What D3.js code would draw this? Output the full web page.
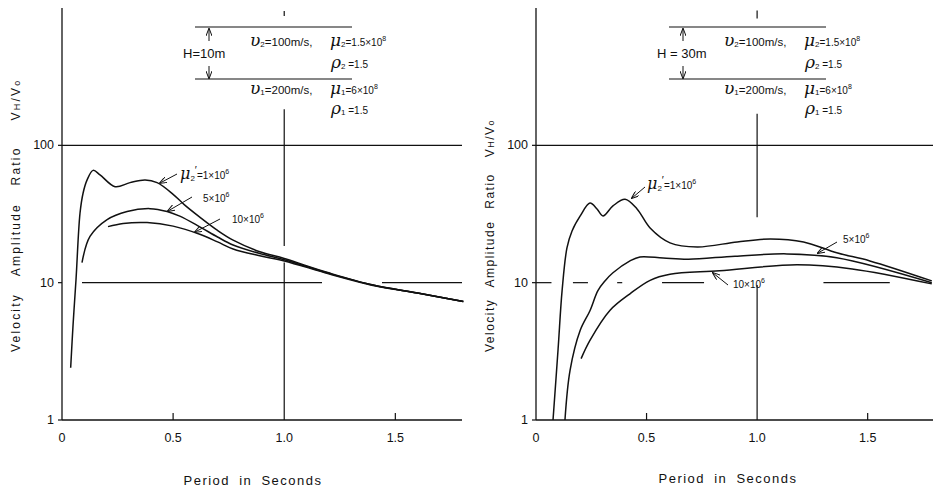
<!DOCTYPE html>
<html>
<head>
<meta charset="utf-8">
<script src="https://cdn.jsdelivr.net/npm/d3@7/dist/d3.min.js"></script>
<style>
  body { margin: 0; background: #fff; }
  svg { display: block; font-family: "Liberation Sans", Arial, sans-serif; }
</style>
</head>
<body>
<svg id="chart" width="933" height="493"></svg>
<script>
// axis ticks
const periodTicks = [0, 0.5, 1.0, 1.5];
const periodSmallTicks = [0.5, 1.5];
const ratioTicks = [1, 10, 100];

// H = 10m curves  [period, ratio]
const h10Mu1 = [[0.039, 2.4], [0.05, 5], [0.063, 10.5], [0.081, 32], [0.095, 45], [0.113, 56],
  [0.14, 65.7], [0.171, 61], [0.239, 50], [0.306, 53.5], [0.374, 56], [0.428, 53.5],
  [0.5, 44], [0.55, 37], [0.62, 30], [0.7, 24], [0.77, 20.4], [0.89, 16.8], [1.0, 15.0],
  [1.2, 11.8], [1.4, 9.6], [1.6, 8.4], [1.806, 7.3]];
const h10Mu5 = [[0.09, 14], [0.126, 21.7], [0.203, 28.8], [0.293, 33], [0.396, 34.6],
  [0.473, 33], [0.53, 30.5], [0.62, 25.5], [0.7, 21.5], [0.77, 18.8], [0.89, 16.3],
  [1.0, 14.7], [1.2, 11.7], [1.4, 9.6], [1.6, 8.4], [1.806, 7.3]];
const h10Mu10 = [[0.207, 25.6], [0.275, 27], [0.383, 27.4], [0.5, 25.8], [0.62, 22.5],
  [0.7, 19.8], [0.77, 17.6], [0.89, 15.7], [1.0, 14.4], [1.2, 11.6], [1.4, 9.55],
  [1.6, 8.4], [1.806, 7.3]];

// H = 30m curves
const h30Mu1 = [[0.077, 1], [0.1, 3.3], [0.118, 8.75], [0.14, 17.9], [0.163, 23.8], [0.2, 30.6],
  [0.244, 38], [0.276, 34.4], [0.303, 30.6], [0.348, 36.2], [0.403, 40.5], [0.457, 34.4],
  [0.516, 25], [0.606, 19.5], [0.73, 18.2], [0.91, 19.8], [1.06, 20.8], [1.21, 19.8],
  [1.36, 16.5], [1.51, 14.4], [1.79, 10.3]];
const h30Mu5 = [[0.131, 1], [0.154, 2.3], [0.2, 4.5], [0.244, 6.25], [0.28, 8.75], [0.312, 10.3],
  [0.348, 11.8], [0.425, 14.4], [0.47, 15.4], [0.575, 15.1], [0.69, 14.8], [0.9, 15.6],
  [1.135, 16.2], [1.36, 15.2], [1.79, 10]];
const h30Mu10 = [[0.204, 2.8], [0.244, 3.8], [0.335, 6.3], [0.425, 8.3], [0.516, 10.4],
  [0.606, 11.5], [0.83, 12.2], [1.18, 13.5], [1.43, 12.6], [1.79, 9.8]];

// broken reference lines [from, to]
const h10Grid10 = [[0.09, 1.17], [1.44, 1.8]];
const h30Grid10 = [[0, 0.07], [0.167, 0.235], [0.367, 0.39], [0.57, 0.76], [1.30, 1.60]];
const gridFull = [[0, 1.8]];
const h10Line1s = [[875, 950], [18.5, 183], [1, 14]];
const h30Line1s = [[840, 960], [30, 170], [1, 9.6]];

const svg = d3.select('#chart');
const top0 = 8, plotH = 412;

const panels = [
  { left: 62, width: 400, hLabel: 'H=10m', curves: [h10Mu1, h10Mu5, h10Mu10],
    grid10: h10Grid10, line1s: h10Line1s, titleX: 253, titleY: 485,
    yTitleX: 20, yTitleLs: 2.2, yTitleWs: 12, yTitleGap: 26,
    notes: [ {t: [118, 171], a: [[115, 166], [98, 175]], lab: 'mu'},
             {t: [141, 194], a: [[130, 189], [106, 203]], lab: '5'},
             {t: [170, 215], a: [[158, 211], [133, 224]], lab: '10'} ] },
  { left: 536, width: 398, hLabel: 'H = 30m', curves: [h30Mu1, h30Mu5, h30Mu10],
    grid10: h30Grid10, line1s: h30Line1s, titleX: 728, titleY: 483,
    yTitleX: 494, yTitleLs: 1.5, yTitleWs: 7, yTitleGap: 16,
    notes: [ {t: [111, 181], a: [[109, 179], [96, 190]], lab: 'mu'},
             {t: [307, 235], a: [[301, 234], [282, 245]], lab: '5'},
             {t: [197, 280], a: [[192, 277], [177, 265]], lab: '10'} ] }
];

svg.append('defs').append('marker')
  .attr('id', 'arr').attr('viewBox', '0 0 8 6').attr('refX', 7).attr('refY', 3)
  .attr('markerWidth', 8).attr('markerHeight', 6).attr('markerUnits', 'userSpaceOnUse')
  .attr('orient', 'auto')
  .append('path').attr('d', 'M0,0 L8,3 L0,6').attr('fill', 'none').attr('stroke', '#111').attr('stroke-width', 1);

function rich(sel, x, y, parts) {
  const t = sel.append('text').attr('x', x).attr('y', y).attr('fill', '#111');
  let shift = 0;
  parts.forEach(p => {
    const s = t.append('tspan').text(p.t).attr('font-size', p.size || 11);
    const target = p.shift || 0;
    s.attr('dy', target - shift);
    shift = target;
    if (p.x != null) s.attr('x', p.x);
    if (p.dx != null) s.attr('dx', p.dx);
    if (p.greek) s.attr('font-style', 'italic').attr('font-family', '"DejaVu Serif", serif');
  });
  return t;
}

panels.forEach(p => {
  const g = svg.append('g').attr('transform', `translate(${p.left},${top0})`);
  const x = d3.scaleLinear().domain([0, 1.8]).range([0, p.width]);
  const y = d3.scaleLog().domain([1, 1000]).range([plotH, 0]);

  // axes
  g.append('line').attr('x1', 0).attr('x2', 0).attr('y1', 0).attr('y2', plotH)
    .attr('stroke', '#111').attr('stroke-width', 1.3);
  g.append('line').attr('x1', 0).attr('x2', p.width).attr('y1', plotH).attr('y2', plotH)
    .attr('stroke', '#111').attr('stroke-width', 1.3);

  g.selectAll('.ytick').data(ratioTicks).join('line')
    .attr('x1', -4).attr('x2', 0).attr('y1', d => y(d)).attr('y2', d => y(d))
    .attr('stroke', '#111').attr('stroke-width', 1.2);
  g.selectAll('.ylab').data(ratioTicks).join('text')
    .attr('x', -8).attr('y', d => y(d) + 4).attr('text-anchor', 'end')
    .attr('font-size', 12.5).attr('fill', '#111').text(d => d);

  g.selectAll('.xtick').data(periodSmallTicks).join('line')
    .attr('x1', d => x(d)).attr('x2', d => x(d)).attr('y1', plotH - 7).attr('y2', plotH)
    .attr('stroke', '#111').attr('stroke-width', 1.2);
  g.selectAll('.xlab').data(periodTicks).join('text')
    .attr('x', d => x(d)).attr('y', plotH + 22).attr('text-anchor', 'middle')
    .attr('font-size', 12.5).attr('fill', '#111').text(d => d === 0 ? '0' : d.toFixed(1));

  // reference lines
  g.selectAll('.g100').data(gridFull).join('line')
    .attr('x1', d => x(d[0])).attr('x2', d => x(d[1])).attr('y1', y(100)).attr('y2', y(100))
    .attr('stroke', '#111').attr('stroke-width', 1.2);
  g.selectAll('.g10').data(p.grid10).join('line')
    .attr('x1', d => x(d[0])).attr('x2', d => x(d[1])).attr('y1', y(10)).attr('y2', y(10))
    .attr('stroke', '#111').attr('stroke-width', 1.2);
  g.selectAll('.g1s').data(p.line1s).join('line')
    .attr('x1', x(1)).attr('x2', x(1)).attr('y1', d => y(d[0])).attr('y2', d => y(d[1]))
    .attr('stroke', '#111').attr('stroke-width', 1.2);

  // curves
  const line = d3.line().x(d => x(d[0])).y(d => y(d[1])).curve(d3.curveCatmullRom.alpha(0.5));
  g.selectAll('.curve').data(p.curves).join('path')
    .attr('d', line).attr('fill', 'none').attr('stroke', '#111').attr('stroke-width', 1.5);

  // curve labels
  p.notes.forEach(n => {
    g.append('line').attr('x1', n.a[0][0]).attr('y1', n.a[0][1]).attr('x2', n.a[1][0]).attr('y2', n.a[1][1])
      .attr('stroke', '#111').attr('stroke-width', 1).attr('marker-end', 'url(#arr)');
    let parts;
    if (n.lab === 'mu') parts = [{t: 'μ', size: 16, greek: true}, {t: '2', size: 8, shift: 2},
      {t: '′', size: 11, shift: -5}, {t: '=1×10', size: 10, shift: 0}, {t: '6', size: 7, shift: -5}];
    else parts = [{t: n.lab + '×10', size: 10}, {t: '6', size: 7, shift: -5}];
    rich(g, n.t[0], n.t[1], parts);
  });

  // layer sketch
  const box = g.append('g');
  [19, 71].forEach(yy => box.append('line').attr('x1', 133).attr('x2', 290)
    .attr('y1', yy).attr('y2', yy).attr('stroke', '#111').attr('stroke-width', 1.2));
  box.append('line').attr('x1', 147).attr('x2', 147).attr('y1', 33).attr('y2', 21)
    .attr('stroke', '#111').attr('stroke-width', 1).attr('marker-end', 'url(#arr)');
  box.append('line').attr('x1', 147).attr('x2', 147).attr('y1', 58).attr('y2', 70)
    .attr('stroke', '#111').attr('stroke-width', 1).attr('marker-end', 'url(#arr)');
  box.append('text').attr('x', 121).attr('y', 50).attr('font-size', 13).attr('fill', '#111').text(p.hLabel);
  rich(box, 188, 38, [{t: 'υ', size: 17, greek: true}, {t: '2', size: 8, shift: 1},
    {t: '=100m/s,', size: 11.5, shift: 0}, {t: 'μ', size: 17, greek: true, x: 268},
    {t: '2', size: 8, shift: 1}, {t: '=1.5×10', size: 10, shift: 0}, {t: '8', size: 7, shift: -5}]);
  rich(box, 269, 60, [{t: 'ρ', size: 17, greek: true}, {t: '2', size: 8, shift: 1},
    {t: ' =1.5', size: 10, shift: 0}]);
  rich(box, 188, 86, [{t: 'υ', size: 17, greek: true}, {t: '1', size: 8, shift: 1},
    {t: '=200m/s,', size: 11.5, shift: 0}, {t: 'μ', size: 17, greek: true, x: 268},
    {t: '1', size: 8, shift: 1}, {t: '=6×10', size: 10, shift: 0}, {t: '8', size: 7, shift: -5}]);
  rich(box, 269, 106, [{t: 'ρ', size: 17, greek: true}, {t: '1', size: 8, shift: 1},
    {t: ' =1.5', size: 10, shift: 0}]);

  // titles
  svg.append('text').attr('x', p.titleX).attr('y', p.titleY).attr('text-anchor', 'middle')
    .attr('font-size', 13).attr('letter-spacing', 1.5).attr('word-spacing', 4)
    .attr('fill', '#111').text('Period in Seconds');
  const yt = svg.append('text').attr('transform', `translate(${p.yTitleX},352) rotate(-90)`)
    .attr('font-size', 12).attr('letter-spacing', p.yTitleLs).attr('word-spacing', p.yTitleWs)
    .attr('fill', '#111');
  yt.append('tspan').text('Velocity Amplitude Ratio');
  yt.append('tspan').attr('dx', p.yTitleGap).text('V');
  yt.append('tspan').attr('font-size', 9).text('H');
  yt.append('tspan').text('/V');
  yt.append('tspan').attr('font-size', 9).text('o');
});
</script>
</body>
</html>
